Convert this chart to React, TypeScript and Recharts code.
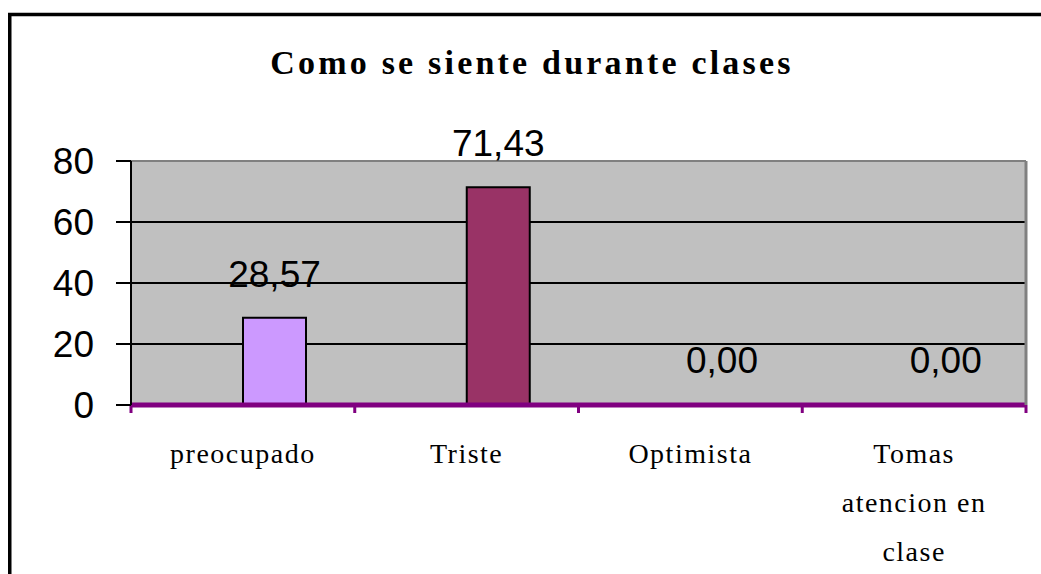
import React from "react";
import { Bar, BarChart, CartesianGrid, Cell, LabelList, XAxis, YAxis } from "recharts";

const categories = ["preocupado", "Triste", "Optimista", "Tomas atencion en clase"];
const values = [28.57, 71.43, 0, 0];
const barColors = ["#CC99FF", "#993366", "#FFFFCC", "#CCFFFF"];
const yTicks = [0, 20, 40, 60, 80];
const edgeTicks = [0, 1, 2, 3, 4];

const data = categories.map((name, i) => ({ name, idx: i, value: values[i], spacer: null }));

const PURPLE = "#800080";

function wrap(text: string, max: number) {
  const lines: string[] = [];
  let cur = "";
  for (const w of text.split(" ")) {
    const next = cur ? cur + " " + w : w;
    if (next.length > max && cur) {
      lines.push(cur);
      cur = w;
    } else {
      cur = next;
    }
  }
  if (cur) lines.push(cur);
  return lines;
}

function CategoryTick(props: any) {
  const { x, y, payload } = props;
  const lines = wrap(payload.value, 11);
  return (
    <text
      x={x}
      y={y}
      textAnchor="middle"
      fill="#000"
      fontFamily="'Liberation Serif', 'Times New Roman', serif"
      fontSize={28}
      letterSpacing={1.5}
    >
      {lines.map((l, i) => (
        <tspan key={i} x={x} dy={i === 0 ? 50 : 49}>
          {l}
        </tspan>
      ))}
    </text>
  );
}

function NoTick() {
  return <g />;
}

function ValueLabel(props: any) {
  const { x, y, width, value } = props;
  return (
    <text
      x={x + width / 2}
      y={y - 31}
      textAnchor="middle"
      fill="#000"
      fontFamily="'Liberation Sans', Arial, sans-serif"
      fontSize={37}
    >
      {Number(value).toFixed(2).replace(".", ",")}
    </text>
  );
}

export default function App() {
  return (
    <div style={{ position: "fixed", left: 0, top: 0, width: 1041, height: 574, background: "#fff", overflow: "hidden" }}>
      <BarChart
        width={1041}
        height={574}
        data={data}
        margin={{ top: 160, right: 14, bottom: 11, left: 71 }}
        barSize={63}
        barGap={0}
      >
        <CartesianGrid vertical={false} fill="#C0C0C0" stroke="#000" strokeWidth={2} />
        <XAxis
          xAxisId="cat"
          dataKey="name"
          height={150}
          interval={0}
          axisLine={false}
          tickLine={false}
          tickSize={0}
          tickMargin={0}
          tick={<CategoryTick />}
        />
        <XAxis
          xAxisId="a_edge"
          dataKey="idx"
          type="number"
          domain={[0, 4]}
          allowDataOverflow
          ticks={edgeTicks}
          interval={0}
          height={8}
          tick={<NoTick />}
          tickSize={8}
          axisLine={{ stroke: PURPLE, strokeWidth: 5 }}
          tickLine={{ stroke: PURPLE, strokeWidth: 3 }}
        />
        <XAxis
          xAxisId="top"
          dataKey="name"
          orientation="top"
          height={1}
          tick={false}
          tickLine={false}
          axisLine={{ stroke: "#808080", strokeWidth: 2 }}
        />
        <YAxis
          domain={[0, 80]}
          ticks={yTicks}
          width={60}
          tickSize={15}
          tickMargin={22}
          axisLine={{ stroke: "#000", strokeWidth: 2 }}
          tickLine={{ stroke: "#000", strokeWidth: 2 }}
          tick={{ fill: "#000", fontSize: 37, fontFamily: "'Liberation Sans', Arial, sans-serif" }}
        />
        <YAxis
          yAxisId="r"
          orientation="right"
          domain={[0, 80]}
          width={1}
          tick={false}
          tickLine={false}
          axisLine={{ stroke: "#808080", strokeWidth: 3 }}
        />
        <Bar xAxisId="cat" dataKey="spacer" isAnimationActive={false} />
        <Bar xAxisId="cat" dataKey="value" minPointSize={1} isAnimationActive={false}>
          {data.map((d, i) => (
            <Cell
              key={i}
              fill={d.value > 0 ? barColors[i] : "transparent"}
              stroke={d.value > 0 ? "#000" : "none"}
              strokeWidth={2}
            />
          ))}
          <LabelList dataKey="value" content={<ValueLabel />} />
        </Bar>
      </BarChart>
      <svg width={1041} height={574} style={{ position: "absolute", left: 0, top: 0, pointerEvents: "none" }}>
        <rect x={9.75} y={14.5} width={1200} height={800} fill="none" stroke="#000" strokeWidth={3.5} />
        <text
          x={532}
          y={74}
          textAnchor="middle"
          fontFamily="'Liberation Serif', 'Times New Roman', serif"
          fontWeight="bold"
          fontSize={34}
          letterSpacing={3.2}
          fill="#000"
        >
          Como se siente durante clases
        </text>
      </svg>
    </div>
  );
}
